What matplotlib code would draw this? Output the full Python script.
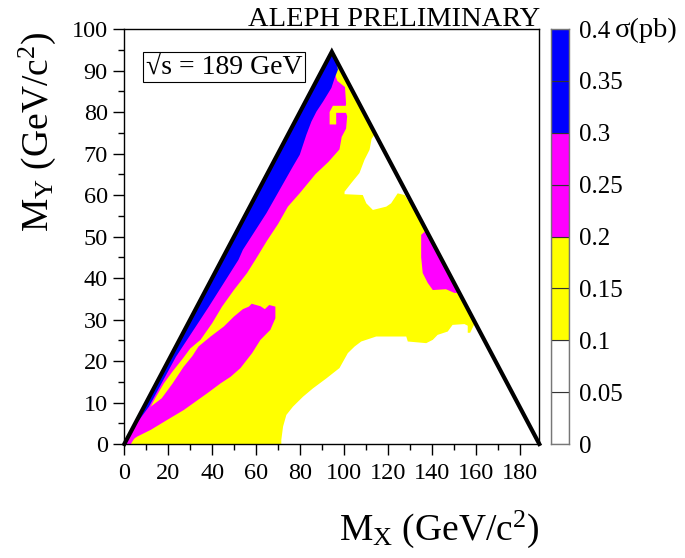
import matplotlib
matplotlib.use("Agg")
import matplotlib.pyplot as plt
from matplotlib.patches import Polygon

plt.rcParams['font.family'] = ['Liberation Serif', 'DejaVu Serif']
plt.rcParams['mathtext.fontset'] = 'custom'
plt.rcParams['mathtext.rm'] = 'Liberation Serif'
plt.rcParams['mathtext.default'] = 'rm'

# kinematic triangle M_X + M_Y <= sqrt(s), M_Y <= M_X
kin_x = [0, 94.5, 189]
kin_y = [0, 94.5, 0]

# colour levels of sigma (pb)
levels = [0, 0.05, 0.1, 0.15, 0.2, 0.25, 0.3, 0.35, 0.4]
level_colors = ['white', 'white', 'yellow', 'yellow', 'magenta', 'magenta', 'blue', 'blue']

# region outlines (M_X, M_Y), drawn in this order
white_low = [(71.5, -5), (71.5, 1), (72.3, 4.2), (73.8, 7), (76.8, 9), (81.4, 11.4), (85.9, 13.4),
             (92, 15.8), (98, 18.3), (101.8, 21.9), (104.9, 23.5), (107.9, 24.7), (114.7, 25.9),
             (128.4, 25.9), (129.1, 24.7), (137.5, 24.3), (140.5, 25.1), (142.7, 26.3), (147.3, 27.1),
             (149.5, 28.7), (154.9, 28.9), (156.4, 28.5), (156.4, 26.8), (157.5, 26.8), (160, 29.5),
             (200, 29.5), (200, -5)]
white_hole = [(114.5, 75), (112.6, 73.5), (111.7, 70.9), (109.4, 68.5), (107.1, 65.3), (103.4, 62.9),
              (100.3, 60.8), (100.3, 60.2), (108.6, 60), (110.2, 58), (113.2, 56.4), (119.3, 57.2),
              (121.5, 58), (124.5, 60.4), (127.6, 60), (129.5, 58.5), (140, 58.5), (140, 75)]
magenta_band = [(3, 0), (7, 3.5), (11, 8), (14, 11), (18, 14.6), (22, 17.5), (26.5, 20.5), (30, 23),
                (34.7, 25.1), (40, 29.1), (44.5, 33.1), (49.9, 37.1), (55.9, 41.2), (59.7, 44.4),
                (65, 49), (70, 53), (74.5, 57.2), (80, 60.5), (87, 65), (93, 68), (98, 71), (99, 74),
                (101, 76), (101.5, 79), (100.5, 80.5), (101, 82), (100.5, 86), (97, 87.5), (96, 89),
                (95.5, 91), (95, 93), (94.5, 96), (-5, -5)]
magenta_blob = [(0, 0), (4, 3), (8, 6), (12, 9), (17, 11), (22, 14.6), (27, 18.6), (31, 21.2),
                (33.8, 23.5), (39.3, 25.9), (45.3, 28.3), (49.9, 30.7), (54, 32.5), (56.7, 33.1),
                (58, 33.8), (62, 33.2), (64, 32.5), (66, 33.5), (68.8, 33.1), (68.8, 30.3), (66.5, 27.5),
                (62, 25.1), (58.2, 21.9), (52.9, 18.3), (48.4, 16.2), (43.8, 14.6), (37.7, 12.2),
                (27.1, 8.2), (19.5, 5.8), (12, 3.4), (5.9, 1.8), (1.4, 0.2)]
magenta_patch = [(135.2, 50.4), (137.5, 51.5), (145, 48), (156, 36.5), (150.3, 36.4), (146.5, 37.3),
                 (140.5, 37.1), (138.2, 38.8), (135.9, 41.2), (135.2, 45), (135.2, 49.2)]
yellow_crack = [(93.5, 77), (96.5, 77), (96.5, 79.8), (102, 79.8), (102, 81.5), (95, 81.5), (93.5, 80)]
blue_band = [(0.8, 0), (2.5, 2.3), (5, 4.5), (11.2, 9), (23.5, 21), (38.5, 33.1), (52, 44.4),
             (54, 46.8), (64.7, 55.6), (76.8, 66.9), (79.9, 69.7), (81.4, 72.1), (82.9, 74.5),
             (85.2, 77.7), (87.5, 80.1), (90.5, 82.5), (94.3, 85.8), (95.8, 88.2), (97.3, 90.2),
             (96, 93.5), (94.5, 96), (-5, -5)]

regions = [(white_low, 0), (white_hole, 0), (magenta_band, 4), (magenta_blob, 4),
           (magenta_patch, 4), (yellow_crack, 2), (blue_band, 6)]

fig = plt.figure(figsize=(6.85, 5.58), dpi=100)
ax = fig.add_axes([0.1815, 0.2043, 0.6058, 0.7437])

clip = Polygon(list(zip(kin_x, kin_y)), closed=True, transform=ax.transData, fill=False, lw=0)
ax.add_patch(clip)

base = ax.fill(kin_x, kin_y, color=level_colors[2], lw=0)[0]
base.set_clip_path(clip)
for pts, idx in regions:
    xs = [p[0] for p in pts]
    ys = [p[1] for p in pts]
    for patch in ax.fill(xs, ys, color=level_colors[idx], lw=0):
        patch.set_clip_path(clip)

ax.plot(kin_x, kin_y, color='black', lw=3, solid_joinstyle='miter', clip_on=False, zorder=5)

ax.set_xlim(0, 189)
ax.set_ylim(0, 100)
ax.set_xticks(range(0, 181, 20))
ax.set_xticks(range(0, 190, 10), minor=True)
ax.set_yticks(range(0, 101, 10))
ax.set_yticks(range(0, 101, 5), minor=True)
ax.tick_params(which='both', direction='out', top=False, right=False, labelsize=17.5, width=1)
ax.tick_params(which='major', length=8)
ax.tick_params(which='minor', length=4.5)
ax.tick_params(axis='x', pad=6)
ax.tick_params(axis='y', pad=4)
for s in ax.spines.values():
    s.set_linewidth(1)

ax.set_xlabel('M$_{X}$ (GeV/c$^{2}$)', fontsize=27, loc='right')
ax.xaxis.label.set_va('baseline')
ax.xaxis.set_label_coords(1.0, -0.231)
ax.set_ylabel('M$_{Y}$ (GeV/c$^{2}$)', fontsize=27, loc='top')
ax.yaxis.label.set_va('baseline')
ax.yaxis.set_label_coords(-0.184, 0.995)

ax.text(0.24, 0.909, '√s = 189 GeV', transform=ax.transAxes, fontsize=20, ha='center', va='center',
        bbox=dict(boxstyle='square,pad=0.1', fc='white', ec='black', lw=0.8))

fig.text(0.788, 0.953, 'ALEPH PRELIMINARY', fontsize=20.5, ha='right', va='baseline')

# colour scale
cax = fig.add_axes([0.804, 0.2043, 0.0272, 0.7437])
for i in range(len(level_colors)):
    cax.bar(0.5, levels[i + 1] - levels[i], bottom=levels[i], width=1,
            color=level_colors[i], edgecolor='#333333', lw=0.8)
cax.set_xlim(0, 1)
cax.set_ylim(0, 0.4)
cax.set_xticks([])
cax.yaxis.tick_right()
cax.set_yticks(levels)
cax.set_yticklabels(['%g' % v for v in levels])
cax.tick_params(axis='y', length=0, pad=7, labelsize=18)
for s in cax.spines.values():
    s.set_color('#777777')
    s.set_linewidth(1)

fig.text(0.898, 0.934, 'σ(pb)', fontsize=20.5, ha='left', va='baseline')

fig.savefig('out.png', dpi=100)
